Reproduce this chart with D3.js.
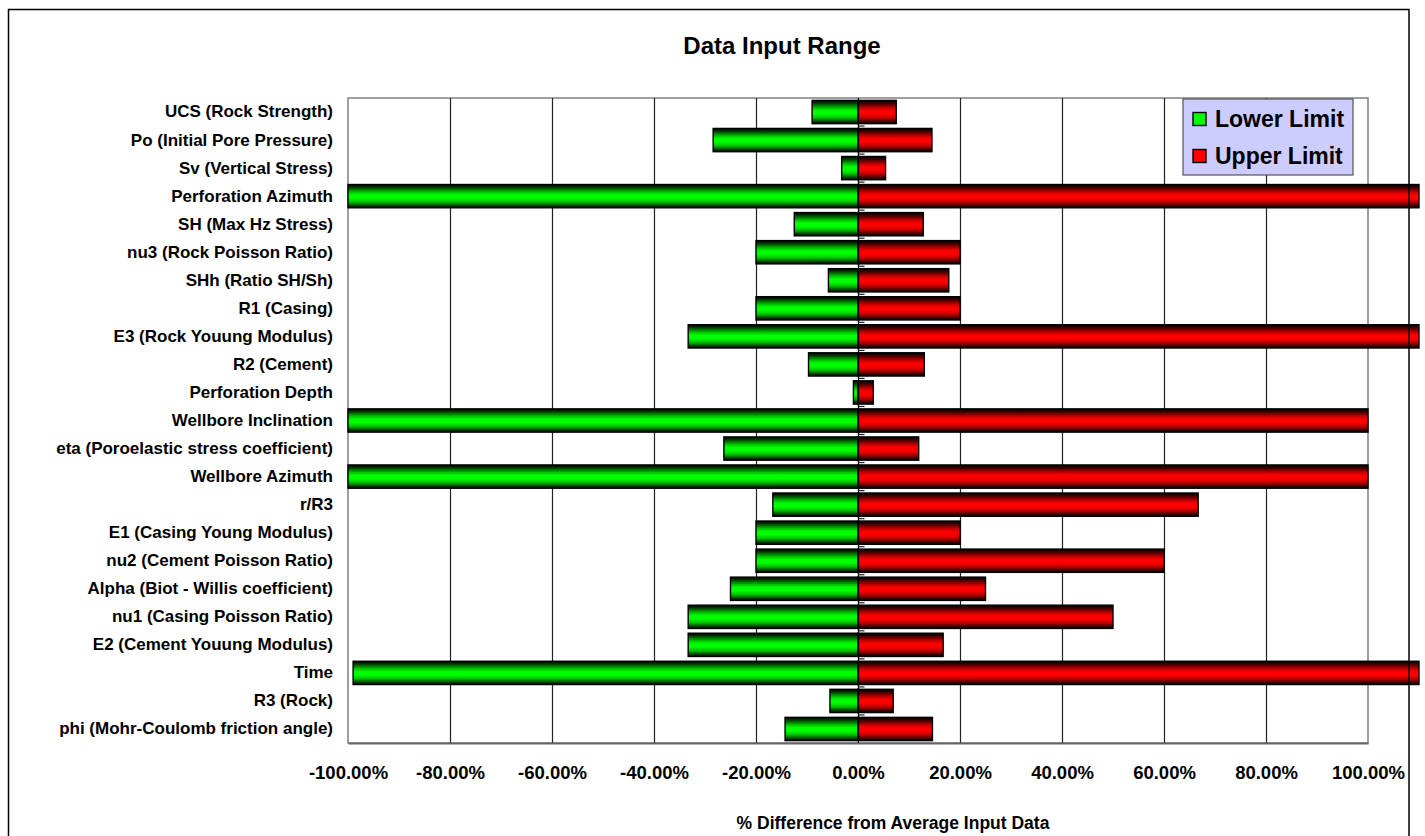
<!DOCTYPE html>
<html>
<head>
<meta charset="utf-8">
<script src="https://cdn.jsdelivr.net/npm/d3@7"></script>
<style>
  html, body { margin: 0; padding: 0; background: #fff; }
  svg { display: block; }
  text { font-family: Arial, "Liberation Sans", sans-serif; font-weight: bold; fill: #000; }
</style>
</head>
<body>
<svg id="chart" width="1425" height="836"></svg>
<script>
const categories = [
  "UCS (Rock Strength)",
  "Po (Initial Pore Pressure)",
  "Sv (Vertical Stress)",
  "Perforation Azimuth",
  "SH (Max Hz Stress)",
  "nu3 (Rock Poisson Ratio)",
  "SHh (Ratio SH/Sh)",
  "R1 (Casing)",
  "E3 (Rock Youung Modulus)",
  "R2 (Cement)",
  "Perforation Depth",
  "Wellbore Inclination",
  "eta (Poroelastic stress coefficient)",
  "Wellbore Azimuth",
  "r/R3",
  "E1 (Casing Young Modulus)",
  "nu2 (Cement Poisson Ratio)",
  "Alpha (Biot - Willis coefficient)",
  "nu1 (Casing Poisson Ratio)",
  "E2 (Cement Youung Modulus)",
  "Time",
  "R3 (Rock)",
  "phi (Mohr-Coulomb friction angle)"
];
const lowerLimit = [-0.090, -0.284, -0.032, -1.000, -0.125, -0.200, -0.058, -0.200, -0.333, -0.097, -0.009, -1.000, -0.263, -1.000, -0.167, -0.200, -0.200, -0.250, -0.333, -0.333, -0.990, -0.055, -0.143];
const upperLimit = [0.075, 0.145, 0.054, 1.100, 0.128, 0.200, 0.178, 0.200, 1.100, 0.130, 0.030, 1.000, 0.119, 1.000, 0.667, 0.200, 0.600, 0.250, 0.500, 0.167, 1.100, 0.069, 0.146];
const xTicks = [-1.0, -0.8, -0.6, -0.4, -0.2, 0, 0.2, 0.4, 0.6, 0.8, 1.0];
const seriesNames = ["Lower Limit", "Upper Limit"];
const titleText = "Data Input Range";
const xAxisTitle = "% Difference from Average Input Data";

const svg = d3.select("#chart");
const plot = { left: 348, right: 1368, top: 98, bottom: 743 };

const x = d3.scaleLinear().domain([-1, 1]).range([plot.left, plot.right]);
const y = d3.scaleBand().domain(categories).range([plot.top, plot.bottom])
  .paddingInner(0.17).paddingOuter(0.085);

const fmt = d3.formatLocale({decimal: ".", thousands: ",", grouping: [3], currency: ["$", ""], minus: "-"}).format(".2%");

// gradients
const defs = svg.append("defs");
function grad(id, dark, mid, bright) {
  const g = defs.append("linearGradient").attr("id", id)
    .attr("x1", 0).attr("y1", 0).attr("x2", 0).attr("y2", 1);
  [[0, "#000"], [0.12, dark], [0.32, mid], [0.45, bright], [0.58, bright], [0.75, mid], [0.92, dark], [1, "#000"]]
    .forEach(([o, c]) => g.append("stop").attr("offset", o).attr("stop-color", c));
}
grad("gGreen", "#003a00", "#00c000", "#00ff00");
grad("gRed", "#3a0000", "#c00000", "#ff0000");

// plot area background + border
svg.append("rect")
  .attr("x", plot.left).attr("y", plot.top)
  .attr("width", plot.right - plot.left).attr("height", plot.bottom - plot.top)
  .attr("fill", "#fff").attr("stroke", "#808080").attr("stroke-width", 1.5);

// gridlines
svg.append("g")
  .attr("transform", `translate(0,${plot.bottom})`)
  .call(d3.axisBottom(x).tickValues(xTicks.filter(v => v !== 0 && Math.abs(v) !== 1))
    .tickSize(-(plot.bottom - plot.top)).tickFormat(""))
  .call(g => g.select(".domain").remove())
  .call(g => g.selectAll("line").attr("stroke", "#222").attr("stroke-width", 1.2));

// bottom axis labels
svg.append("g")
  .attr("transform", `translate(0,${plot.bottom})`)
  .call(d3.axisBottom(x).tickValues(xTicks).tickSize(0).tickPadding(23).tickFormat(fmt))
  .call(g => g.select(".domain").attr("stroke", "#666").attr("stroke-width", 2))
  .call(g => g.selectAll("text").style("font-size", "18.5px").style("font-family", "Arial, 'Liberation Sans', sans-serif").style("font-weight", "bold").attr("fill", "#000"));

// category axis labels
svg.append("g")
  .attr("transform", `translate(${plot.left},0)`)
  .call(d3.axisLeft(y).tickSize(0).tickPadding(15))
  .call(g => g.select(".domain").remove())
  .call(g => g.selectAll("text").style("font-size", "17px").style("font-family", "Arial, 'Liberation Sans', sans-serif").style("font-weight", "bold").attr("fill", "#000"));

// bars
const rows = categories.map((c, i) => ({ c, lo: lowerLimit[i], hi: upperLimit[i] }));
svg.append("g").selectAll("rect").data(rows).join("rect")
  .attr("x", d => x(d.lo)).attr("y", d => y(d.c))
  .attr("width", d => x(0) - x(d.lo)).attr("height", y.bandwidth())
  .attr("fill", "url(#gGreen)").attr("stroke", "#000").attr("stroke-width", 1.4);
svg.append("g").selectAll("rect").data(rows).join("rect")
  .attr("x", x(0)).attr("y", d => y(d.c))
  .attr("width", d => x(d.hi) - x(0)).attr("height", y.bandwidth())
  .attr("fill", "url(#gRed)").attr("stroke", "#000").attr("stroke-width", 1.4);

// zero axis line with category ticks
const zx = Math.round(x(0)) + 0.5;
svg.append("line").attr("x1", zx).attr("x2", zx).attr("y1", plot.top).attr("y2", plot.bottom)
  .attr("stroke", "#000").attr("stroke-width", 1.3);
svg.append("g").selectAll("line").data(categories.slice(1)).join("line")
  .attr("x1", zx).attr("x2", zx + 6)
  .attr("y1", d => y(d) - y.step() * y.paddingInner() / 2)
  .attr("y2", d => y(d) - y.step() * y.paddingInner() / 2)
  .attr("stroke", "#222").attr("stroke-width", 1.2);

// title
svg.append("text").attr("x", 782).attr("y", 54).attr("text-anchor", "middle")
  .style("font-size", "24px").text(titleText);

// axis title
svg.append("text").attr("x", 893).attr("y", 829).attr("text-anchor", "middle")
  .style("font-size", "17.5px").text(xAxisTitle);

// legend
const lg = svg.append("g");
lg.append("rect").attr("x", 1183).attr("y", 99).attr("width", 170).attr("height", 76)
  .attr("fill", "#ccccff").attr("stroke", "#555").attr("stroke-width", 1.2);
const legendFills = ["#00ff00", "#ff0000"];
seriesNames.forEach((n, i) => {
  const cy = 119 + i * 37;
  lg.append("rect").attr("x", 1193).attr("y", cy - 6.5).attr("width", 13).attr("height", 13)
    .attr("fill", legendFills[i]).attr("stroke", "#000").attr("stroke-width", 1.4);
  lg.append("text").attr("x", 1215).attr("y", cy + 8).style("font-size", "23px").text(n);
});

// outer chart border
svg.append("rect").attr("x", 8.5).attr("y", 9.5).attr("width", 1400.5).attr("height", 900)
  .attr("fill", "none").attr("stroke", "#000").attr("stroke-width", 1.5);
</script>
</body>
</html>
